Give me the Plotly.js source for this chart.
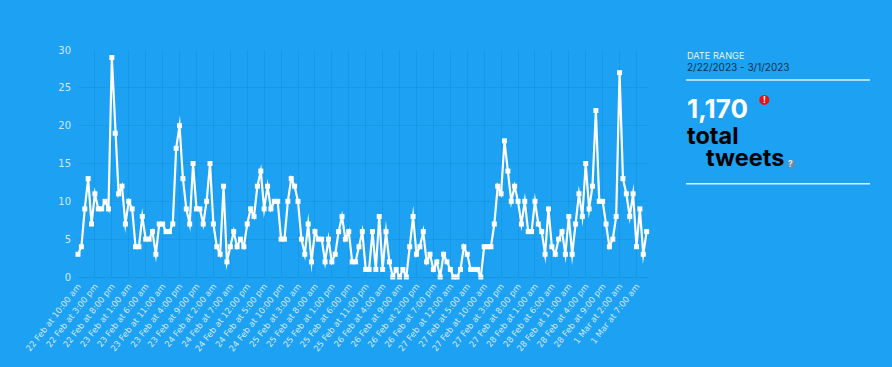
<!DOCTYPE html>
<html><head><meta charset="utf-8">
<script src="https://cdn.plot.ly/plotly-3.0.1.min.js"></script>
<style>html,body{margin:0;padding:0;background:#1DA1F2;overflow:hidden}
.scatterlayer path.js-line{stroke-linejoin:miter !important;stroke-miterlimit:10 !important}</style>
</head><body><div id="c" style="width:892px;height:367px"></div>
<script>
const tweetsPerHour = [3,4,9,13,7,11,9,9,10,9,29,19,11,12,7,10,9,4,4,8,5,5,6,3,7,7,6,6,7,17,20,13,9,7,15,9,9,7,10,15,7,4,3,12,2,4,6,4,5,4,7,9,8,12,14,9,12,9,10,10,5,5,10,13,12,10,5,3,7,2,6,5,5,2,5,2,3,6,8,5,6,2,2,4,6,1,1,6,1,8,1,6,2,0,1,0,1,0,4,8,3,4,6,2,3,1,2,0,3,2,1,0,0,1,4,3,1,1,1,0,4,4,4,7,12,11,18,14,10,12,10,7,10,6,6,10,7,6,3,9,4,3,5,6,3,8,3,7,11,8,15,9,12,22,10,10,7,4,5,8,27,13,11,8,11,4,9,3,6];
const tickLabels = ["22 Feb at 10:00 am","22 Feb at 3:00 pm","22 Feb at 8:00 pm","23 Feb at 1:00 am","23 Feb at 6:00 am","23 Feb at 11:00 am","23 Feb at 4:00 pm","23 Feb at 9:00 pm","24 Feb at 2:00 am","24 Feb at 7:00 am","24 Feb at 12:00 pm","24 Feb at 5:00 pm","24 Feb at 10:00 pm","25 Feb at 3:00 am","25 Feb at 8:00 am","25 Feb at 1:00 pm","25 Feb at 6:00 pm","25 Feb at 11:00 pm","26 Feb at 4:00 am","26 Feb at 9:00 am","26 Feb at 2:00 pm","26 Feb at 7:00 pm","27 Feb at 12:00 am","27 Feb at 5:00 am","27 Feb at 10:00 am","27 Feb at 3:00 pm","27 Feb at 8:00 pm","28 Feb at 1:00 am","28 Feb at 6:00 am","28 Feb at 11:00 am","28 Feb at 4:00 pm","28 Feb at 9:00 pm","1 Mar at 2:00 am","1 Mar at 7:00 am"];
const totalText = "1,170";
const rangeText = "2/22/2023 - 3/1/2023";

const W=892,H=367,L=78,R=648,T=50,B=277.5;
const px=x=>(x-L)/(R-L), py=y=>(B-y)/(B-T);
const FONT='Inter, sans-serif', TICK='"DejaVu Sans", sans-serif';
const note=(text,x,y,size,color,weight)=>({text:weight?`<b>${text}</b>`:text,xref:'paper',yref:'paper',x:px(x),y:py(y),xanchor:'left',yanchor:'middle',showarrow:false,font:{family:FONT,size:size,color:color}});
const badge=(text,x,y,color)=>({text:`<b>${text}</b>`,xref:'paper',yref:'paper',x:px(x),y:py(y),xanchor:'center',yanchor:'middle',showarrow:false,font:{family:FONT,size:8.5,color:color}});
const circle=(cx,cy,r,color)=>({type:'circle',xref:'paper',yref:'paper',x0:px(cx-r),x1:px(cx+r),y0:py(cy+r),y1:py(cy-r),fillcolor:color,line:{width:0}});
const rule=y=>({type:'line',xref:'paper',yref:'paper',x0:px(686),x1:px(870),y0:py(y),y1:py(y),line:{color:'rgba(255,255,255,0.85)',width:1.5}});

Plotly.newPlot('c',[{
  x:tweetsPerHour.map((_,i)=>i), y:tweetsPerHour, type:'scatter', mode:'lines+markers',
  line:{color:'#fff',width:2.2}, marker:{color:'#fff',symbol:'square',size:5}, cliponaxis:false, hoverinfo:'skip'
}],{
  width:W,height:H,paper_bgcolor:'#1DA1F2',plot_bgcolor:'#1DA1F2',showlegend:false,
  margin:{l:L,r:W-R,t:T,b:H-B,pad:0},
  font:{family:FONT},
  xaxis:{range:[0,168.4],tickmode:'array',tickvals:tickLabels.map((_,i)=>i*5),ticktext:tickLabels,tickangle:-52,automargin:false,
    tickfont:{size:8.5,color:'rgba(255,255,255,0.8)',family:TICK},gridcolor:'rgba(10,110,180,0.18)',gridwidth:1,zeroline:false,showline:true,linecolor:'rgba(10,110,180,0.25)',ticks:'',ticklen:0},
  yaxis:{range:[0,30],tickmode:'array',tickvals:[0,5,10,15,20,25,30],ticklabelstandoff:6,tickfont:{size:10,color:'rgba(255,255,255,0.8)',family:TICK},gridcolor:'rgba(10,110,180,0.18)',gridwidth:1,zeroline:false,showline:false,ticks:'',ticklen:0},
  shapes:[rule(80),rule(184),circle(764.3,100,5,'#EE0F16'),circle(791,164.5,4.5,'#5A90B8')],
  annotations:[
    note('DATE RANGE',684.5,55.5,9.2,'rgba(255,255,255,0.9)'),
    note(rangeText,684.5,67.5,10,'#12314a'),
    note(totalText,684.5,109,26,'#fff',true),
    note('total',684.5,136,23.5,'#000',true),
    note('tweets',703.5,158,23.5,'#000',true),
    badge('!',764.3,100,'#fff'),
    badge('?',791,164.5,'#dfeaf2')
  ]
},{displayModeBar:false,staticPlot:true});
</script></body></html>
